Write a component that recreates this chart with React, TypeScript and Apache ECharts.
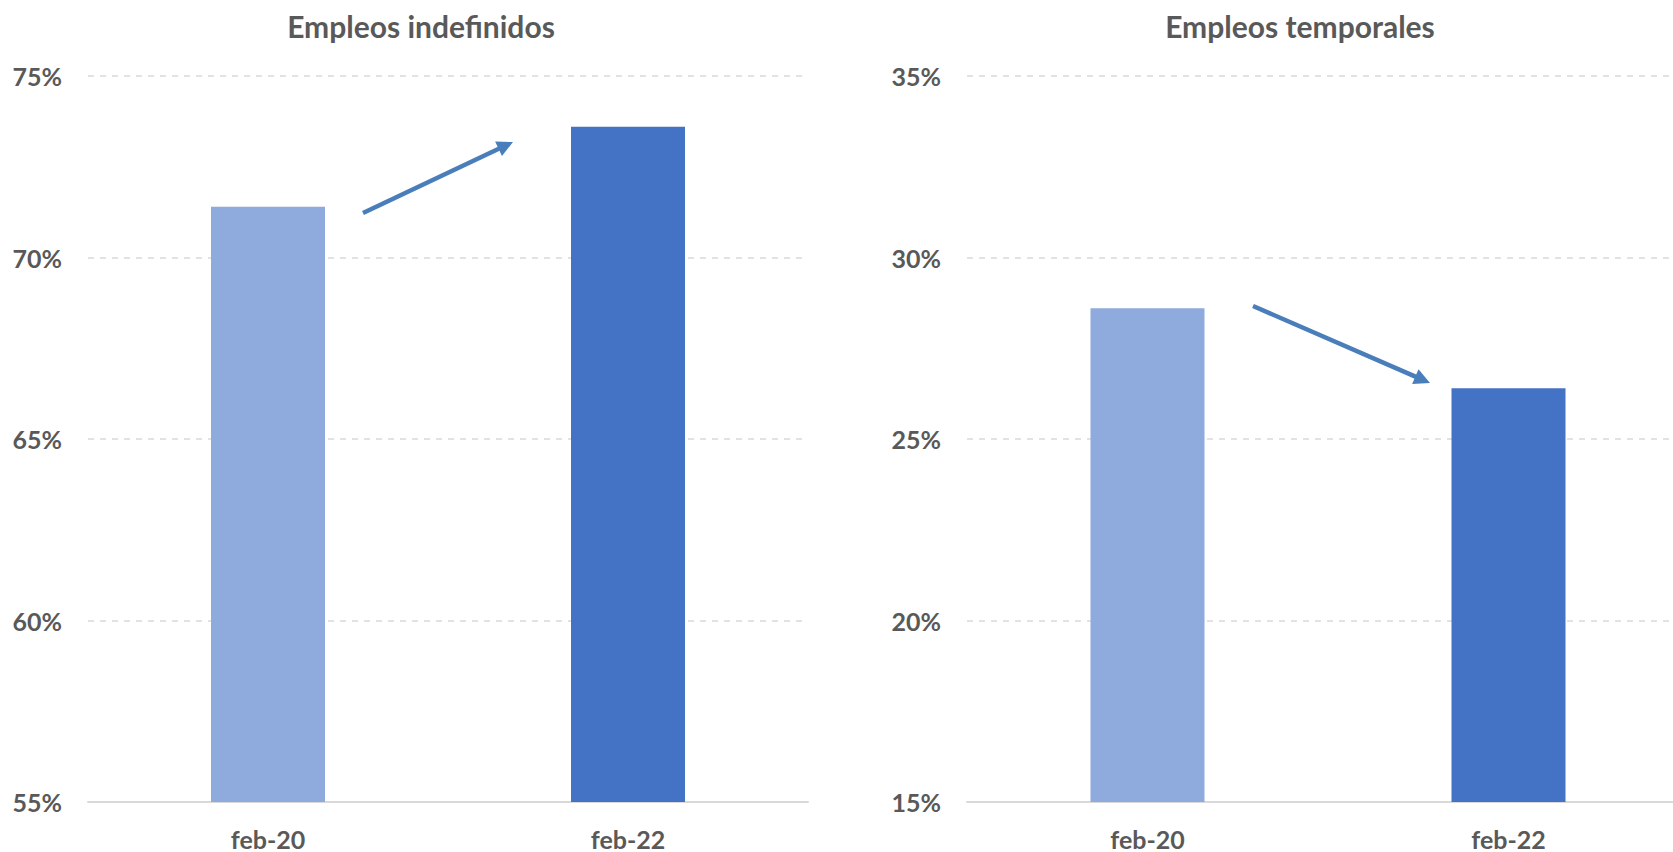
import React, { useEffect, useRef } from "react";
import * as echarts from "echarts";

const categories = ["feb-20", "feb-22"];
const indefinidos = [71.4, 73.6];
const temporales = [28.6, 26.4];
const barColors = ["#8FAADC", "#4472C4"];
const titles = ["Empleos indefinidos", "Empleos temporales"];
const leftRange = [55, 75];
const rightRange = [15, 35];
const tickStep = 5;

const TEXT = "#595959";
const FONT = "Lato, 'Noto Sans', sans-serif";
const ARROW = "#4A7EBB";

function arrow(x1: number, y1: number, x2: number, y2: number) {
  const dx = x2 - x1;
  const dy = y2 - y1;
  const len = Math.sqrt(dx * dx + dy * dy);
  const ux = dx / len;
  const uy = dy / len;
  const hl = 16;
  const hw = 8;
  const bx = x2 - ux * hl;
  const by = y2 - uy * hl;
  const px = -uy;
  const py = ux;
  return [
    {
      type: "line",
      shape: { x1, y1, x2: bx + ux * 2, y2: by + uy * 2 },
      style: { stroke: ARROW, lineWidth: 4.5 },
      silent: true,
    },
    {
      type: "polygon",
      shape: {
        points: [
          [x2, y2],
          [bx + px * hw, by + py * hw],
          [bx - px * hw, by - py * hw],
        ],
      },
      style: { fill: ARROW },
      silent: true,
    },
  ];
}

export default function App() {
  const ref = useRef<HTMLDivElement>(null);
  useEffect(() => {
    document.body.style.margin = "0";
    document.body.style.overflow = "hidden";
    document.documentElement.style.overflow = "hidden";
    if (!ref.current) return;
    const chart = echarts.init(ref.current, undefined, { renderer: "svg" });
    const makeY = (idx: number, range: number[]) => ({
      type: "value",
      gridIndex: idx,
      min: range[0],
      max: range[1],
      interval: tickStep,
      axisLine: { show: false },
      axisTick: { show: false },
      axisLabel: {
        formatter: "{value}%",
        color: TEXT,
        fontFamily: FONT,
        fontWeight: "bold",
        fontSize: 25,
        margin: 26,
      },
      splitLine: { lineStyle: { color: "#D9D9D9", type: [6, 6], width: 1.5 } },
    });
    const makeX = (idx: number) => ({
      type: "category",
      gridIndex: idx,
      data: categories,
      axisLine: { lineStyle: { color: "#D9D9D9", width: 2 } },
      axisTick: { show: false },
      axisLabel: {
        color: TEXT,
        fontFamily: FONT,
        fontWeight: "bold",
        fontSize: 25,
        margin: 24,
      },
    });
    const makeData = (vals: number[]) =>
      vals.map((v, i) => ({ value: v, itemStyle: { color: barColors[i] } }));
    const titleStyle = { color: TEXT, fontFamily: FONT, fontWeight: "bold", fontSize: 30 };
    chart.setOption({
      animation: false,
      backgroundColor: "#FFFFFF",
      title: [
        { text: titles[0], left: 416, textAlign: "center", top: 6, textStyle: titleStyle },
        { text: titles[1], left: 1295, textAlign: "center", top: 6, textStyle: titleStyle },
      ],
      grid: [
        { left: 88, top: 76, width: 720, height: 726 },
        { left: 967, top: 76, width: 722, height: 726 },
      ],
      xAxis: [makeX(0), makeX(1)],
      yAxis: [makeY(0, leftRange), makeY(1, rightRange)],
      series: [
        {
          type: "bar",
          xAxisIndex: 0,
          yAxisIndex: 0,
          barWidth: 114,
          data: makeData(indefinidos),
        },
        {
          type: "bar",
          xAxisIndex: 1,
          yAxisIndex: 1,
          barWidth: 114,
          data: makeData(temporales),
        },
      ],
      graphic: [...arrow(363, 213, 513, 142), ...arrow(1253, 306, 1430, 383)],
    });
    return () => chart.dispose();
  }, []);
  return (
    <div style={{ width: 1673, height: 852, overflow: "hidden" }}>
      <div ref={ref} style={{ width: 1700, height: 852 }} />
    </div>
  );
}
